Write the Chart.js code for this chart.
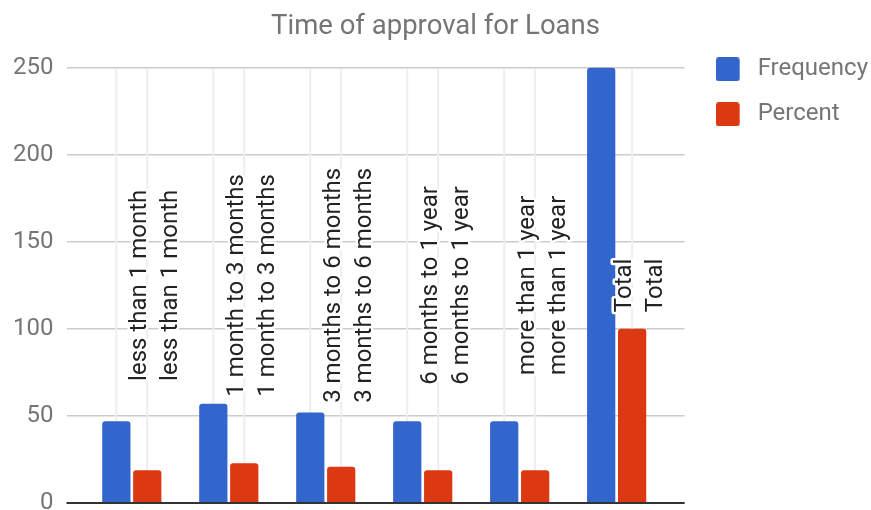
<!DOCTYPE html>
<html>
<head>
<meta charset="utf-8">
<script src="https://cdn.jsdelivr.net/npm/chart.js@4.4.1/dist/chart.umd.min.js"></script>
<style>
html,body{margin:0;padding:0;background:#ffffff;overflow:hidden}
#wrap{width:871px;height:510px;position:relative}
</style>
</head>
<body>
<div id="wrap"><canvas id="c"></canvas></div>
<script>
// ---- data ----
const categories = ['less than 1 month', '1 month to 3 months', '3 months to 6 months', '6 months to 1 year', 'more than 1 year', 'Total'];
const frequency = [47, 57, 52, 47, 47, 250];
const percent = [18.8, 22.8, 20.8, 18.8, 18.8, 100];
const seriesNames = ['Frequency', 'Percent'];
const seriesColors = ['#3366cc', '#dc3912'];
const titleText = 'Time of approval for Loans';
const yTickTop = 250;
const yTickStep = 50;

const toPoints = arr => arr.map((v, i) => ({x: i, y: v}));

// legend swatch: 24px rounded square inside a 30px-wide slot
function makeSwatch(color) {
  const cv = document.createElement('canvas');
  cv.width = 30; cv.height = 24;
  const c = cv.getContext('2d');
  c.fillStyle = color;
  c.beginPath();
  if (c.roundRect) { c.roundRect(0, 0, 24, 24, 3); } else { c.rect(0, 0, 24, 24); }
  c.fill();
  return cv;
}
const swatches = seriesColors.map(makeSwatch);

const annotations = {
  id: 'annotations',
  beforeDatasetsDraw(chart) {
    const ctx = chart.ctx, y = chart.scales.y;
    const top = y.getPixelForValue(yTickTop) + 1.5;
    const bottom = y.getPixelForValue(0);
    ctx.save();
    ctx.strokeStyle = '#eeeeee';
    ctx.lineWidth = 2;
    chart.data.datasets.forEach((ds, d) => {
      chart.getDatasetMeta(d).data.forEach(bar => {
        ctx.beginPath();
        ctx.moveTo(bar.x, top);
        ctx.lineTo(bar.x, bottom);
        ctx.stroke();
      });
    });
    ctx.restore();
  },
  afterDatasetsDraw(chart) {
    const ctx = chart.ctx, y = chart.scales.y, area = chart.chartArea;
    const y0 = y.getPixelForValue(0);
    ctx.save();
    ctx.strokeStyle = '#333333';
    ctx.lineWidth = 2;
    ctx.beginPath();
    ctx.moveTo(area.left, y0);
    ctx.lineTo(area.right, y0);
    ctx.stroke();
    const mid = (y.getPixelForValue(0) + y.getPixelForValue(yTickTop)) / 2;
    ctx.font = '24px Roboto';
    ctx.textAlign = 'center';
    ctx.textBaseline = 'alphabetic';
    ctx.lineJoin = 'round';
    chart.data.datasets.forEach((ds, d) => {
      chart.getDatasetMeta(d).data.forEach((bar, i) => {
        ctx.save();
        ctx.translate(bar.x + 30, mid);
        ctx.rotate(-Math.PI / 2);
        ctx.strokeStyle = '#ffffff';
        ctx.lineWidth = 5;
        ctx.strokeText(categories[i], 0, 0);
        ctx.fillStyle = '#222222';
        ctx.fillText(categories[i], 0, 0);
        ctx.restore();
      });
    });
    ctx.restore();
  }
};

new Chart(document.getElementById('c'), {
  type: 'bar',
  data: {
    datasets: [
      {label: seriesNames[0], data: toPoints(frequency), backgroundColor: seriesColors[0], borderRadius: 3},
      {label: seriesNames[1], data: toPoints(percent), backgroundColor: seriesColors[1], borderRadius: 3}
    ]
  },
  options: {
    responsive: true,
    maintainAspectRatio: false,
    animation: false,
    categoryPercentage: 0.638,
    barPercentage: 0.913,
    layout: {padding: {left: -7, right: -7, top: 0, bottom: 7}},
    plugins: {
      tooltip: {enabled: false},
      title: {
        display: true,
        text: titleText,
        color: '#757575',
        font: {family: 'Roboto', size: 27.5, weight: 'normal', lineHeight: 0.667},
        padding: {top: 18, bottom: 0}
      },
      legend: {
        position: 'right',
        align: 'start',
        fullSize: false,
        maxWidth: 300,
        labels: {
          color: '#757575',
          font: {family: 'Roboto', size: 24},
          boxWidth: 24,
          boxHeight: 24,
          usePointStyle: true,
          pointStyleWidth: 30,
          padding: 21,
          generateLabels(chart) {
            const items = Chart.defaults.plugins.legend.labels.generateLabels(chart);
            items.forEach((it, k) => { it.pointStyle = swatches[k]; });
            return items;
          }
        }
      }
    },
    scales: {
      x: {
        type: 'linear',
        display: false,
        offset: false,
        bounds: 'data',
        min: -0.6735,
        max: 5.701,
        afterBuildTicks(s) { s.ticks = categories.map((c, i) => ({value: i})); }
      },
      y: {
        type: 'linear',
        position: 'left',
        min: 0,
        max: 268,
        bounds: 'data',
        border: {display: false},
        grid: {color: '#cccccc', lineWidth: 1.5, drawTicks: false},
        ticks: {
          stepSize: yTickStep,
          includeBounds: false,
          padding: 13,
          color: '#757575',
          font: {family: 'Roboto', size: 24}
        },
        afterBuildTicks(s) { s.ticks = s.ticks.filter(t => t.value <= yTickTop); },
        afterFit(s) { s.paddingBottom = 0; s.paddingTop = 0; s.width = 73.5; }
      },
      spacer: {
        type: 'linear',
        position: 'right',
        display: true,
        grid: {display: false},
        border: {display: false},
        ticks: {display: false},
        afterFit(s) { s.width = 10; }
      }
    }
  },
  plugins: [annotations]
});
</script>
</body>
</html>
